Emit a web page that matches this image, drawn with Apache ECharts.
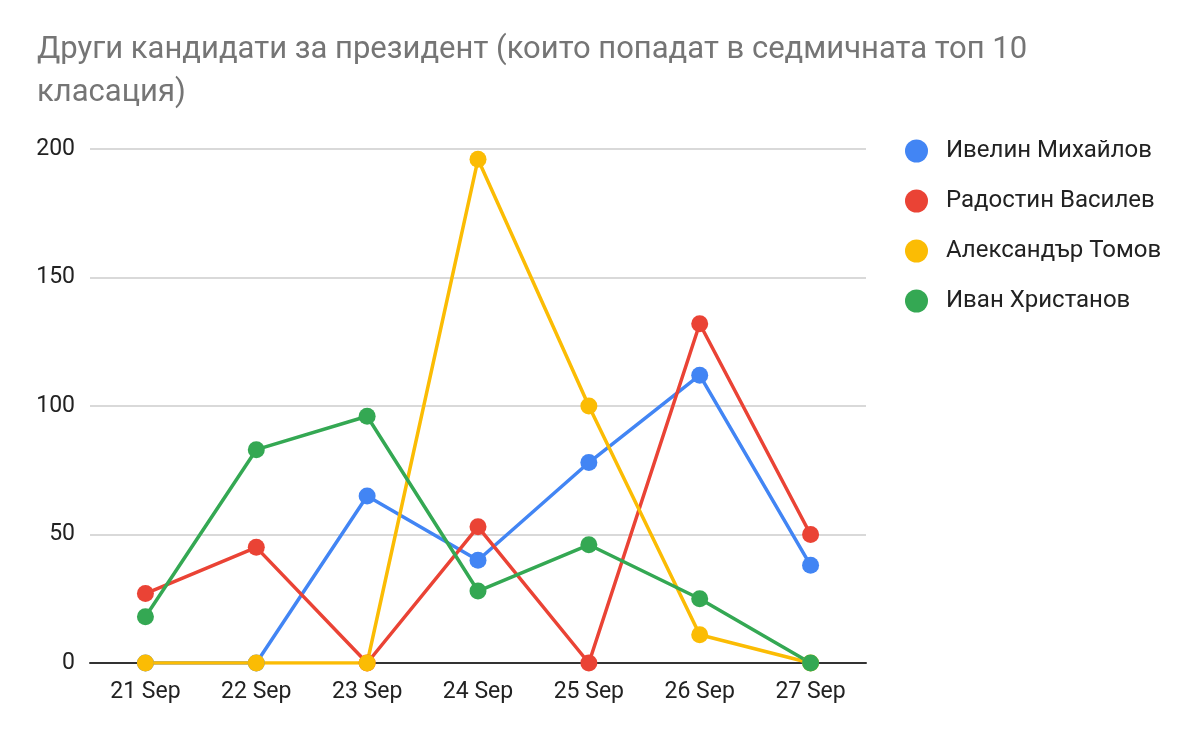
<!DOCTYPE html>
<html>
<head>
<meta charset="utf-8">
<script src="https://cdn.jsdelivr.net/npm/echarts@6/dist/echarts.min.js"></script>
<style>
  html, body { margin: 0; padding: 0; background: #fff; }
  #chart { width: 1200px; height: 742px; }
</style>
</head>
<body>
<div id="chart"></div>
<script>
var days = ['21 Sep', '22 Sep', '23 Sep', '24 Sep', '25 Sep', '26 Sep', '27 Sep'];
var names = ['Ивелин Михайлов', 'Радостин Василев', 'Александър Томов', 'Иван Христанов'];
var mihaylov = [0, 0, 65, 40, 78, 112, 38];
var vasilev = [27, 45, 0, 53, 0, 132, 50];
var tomov = [0, 0, 0, 196, 100, 11, 0];
var hristanov = [18, 83, 96, 28, 46, 25, 0];
var colors = ['#4285f4', '#ea4335', '#fbbc04', '#34a853'];

var myChart = echarts.init(document.getElementById('chart'));
var allData = [mihaylov, vasilev, tomov, hristanov];
var series = [];
for (var i = 0; i < names.length; i++) {
    series.push({
        name: names[i],
        type: 'line',
        data: allData[i],
        symbol: 'circle',
        symbolSize: 17,
        lineStyle: { width: 3.5, color: colors[i] },
        itemStyle: { color: colors[i] },
        emphasis: { disabled: true }
    });
}

var option = {
    animation: false,
    color: colors,
    textStyle: { fontFamily: 'Roboto' },
    title: {
        text: 'Други кандидати за президент (които попадат в седмичната топ 10\nкласация)',
        left: 32,
        top: 24,
        textStyle: {
            fontFamily: 'Roboto',
            fontSize: 31,
            fontWeight: 'normal',
            color: '#757575',
            lineHeight: 43
        }
    },
    legend: {
        orient: 'vertical',
        left: 900,
        top: 134,
        icon: 'circle',
        itemWidth: 23,
        itemHeight: 23,
        itemGap: 26,
        textStyle: { fontFamily: 'Roboto', fontSize: 24, color: '#222', padding: [0, 0, 0, 13] }
    },
    grid: { left: 90, right: 334, top: 149, bottom: 79 },
    xAxis: {
        type: 'category',
        data: days,
        boundaryGap: true,
        axisLine: { lineStyle: { color: '#333', width: 2 } },
        axisTick: { show: false },
        axisLabel: { color: '#222', fontSize: 23, margin: 18 }
    },
    yAxis: {
        type: 'value',
        min: 0,
        max: 200,
        interval: 50,
        axisLine: { show: false },
        axisTick: { show: false },
        splitLine: { lineStyle: { color: '#cccccc', width: 1.5 } },
        axisLabel: { color: '#222', fontSize: 23, margin: 15 }
    },
    series: series
};
option && myChart.setOption(option);
</script>
</body>
</html>
